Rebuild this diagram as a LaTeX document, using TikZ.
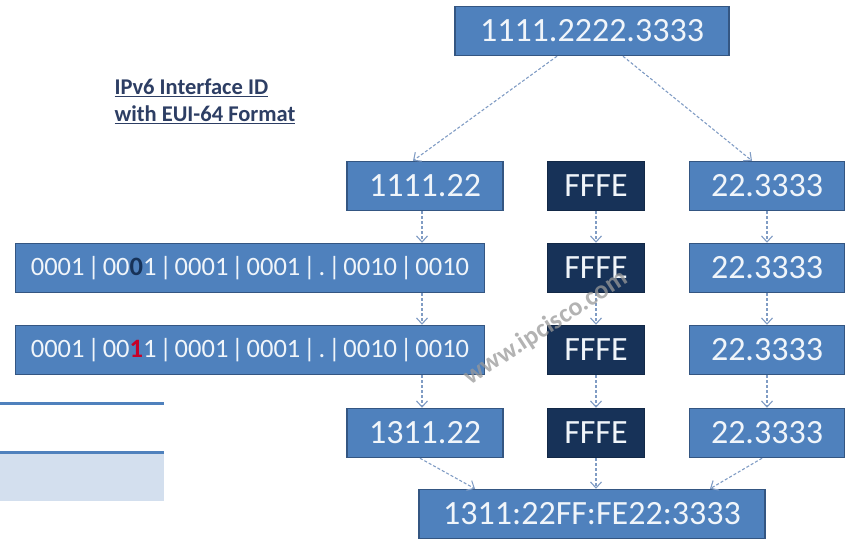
\documentclass[tikz,border=0pt]{standalone}
\usepackage{fontspec}
\setmainfont{Carlito}
\usetikzlibrary{arrows.meta}
\definecolor{boxblue}{RGB}{79,129,189}
\definecolor{boxedge}{RGB}{52,86,130}
\definecolor{darkbox}{RGB}{23,50,88}
\definecolor{linkblue}{RGB}{128,156,196}
\definecolor{tableblue}{RGB}{211,223,238}
\definecolor{labelblue}{RGB}{45,62,100}
\definecolor{bitred}{RGB}{200,0,40}
\definecolor{boxtext}{RGB}{240,245,250}
\newcommand{\bitsep}{\hspace{3pt}|\hspace{3pt}}

\begin{document}
\begin{tikzpicture}[x=1pt, y=-1pt,
  every node/.style={font=\fontsize{34}{36}\selectfont, text=boxtext},
  idbox/.style={draw=boxedge, fill=boxblue, line width=1.5pt, minimum height=49pt, inner sep=0pt},
  ffbox/.style={idbox, fill=darkbox, draw=darkbox!80!black, minimum width=97pt},
  bitbox/.style={idbox, minimum width=469pt, font=\fontsize{26.5}{28}\selectfont},
  link/.style={draw=linkblue, line width=1.1pt, dash pattern=on 3pt off 2pt, -{Straight Barb[length=6pt,width=11pt]}}]
\useasboundingbox (0,0) rectangle (852,542);

% table edge on the left
\fill[tableblue] (0,452) rectangle (164,501);
\draw[boxblue, line width=3pt] (0,403) -- (164,403);
\draw[boxblue, line width=3pt] (0,452) -- (164,452);

\node[text=labelblue, font=\bfseries\fontsize{22.5}{27}\selectfont, align=left, anchor=north west] (title) at (111,75) {\underline{IPv6 Interface ID}\\\underline{with EUI-64 Format}};

\node[idbox, minimum width=274pt] (top) at (592,31) {1111.2222.3333};
\node[idbox, minimum width=156pt] (head1) at (425,186) {1111.22};
\node[bitbox] (bits2) at (250,268) {0001\bitsep00{\bfseries\color{darkbox}0}1\bitsep0001\bitsep0001\bitsep.\bitsep0010\bitsep0010};
\node[bitbox] (bits3) at (250,350) {0001\bitsep00{\bfseries\color{bitred}1}1\bitsep0001\bitsep0001\bitsep.\bitsep0010\bitsep0010};
\node[idbox, minimum width=156pt] (head4) at (425,433) {1311.22};
\node[idbox, minimum width=346pt] (eui) at (592,514) {1311:22FF:FE22:3333};

\foreach \r/\y in {1/186,2/268,3/350,4/433} {
  \node[ffbox] (ff\r) at (596,\y) {FFFE};
  \node[idbox, minimum width=155pt] (tail\r) at (767,\y) {22.3333};
}
\foreach \a/\b in {1/2,2/3,3/4} {
  \draw[link] (ff\a) -- (ff\b);
  \draw[link] (tail\a) -- (tail\b);
}

\draw[link] ([xshift=-35]top.south) -- ([xshift=-12]head1.north);
\draw[link] ([xshift=31]top.south) -- ([xshift=-15]tail1.north);
\draw[link] ([xshift=-3]head1.south) -- ([xshift=-3]head1.south |- bits2.north);
\draw[link] ([xshift=-3]head1.south |- bits2.south) -- ([xshift=-3]head1.south |- bits3.north);
\draw[link] ([xshift=-3]head1.south |- bits3.south) -- ([xshift=-3]head4.north);
\draw[link] ([xshift=-5]head4.south) -- ([xshift=-117]eui.north);
\draw[link] (ff4) -- (eui.north -| ff4);
\draw[link] ([xshift=-5]tail4.south) -- ([xshift=118]eui.north);

\node[text=gray!80, opacity=0.75, font=\bfseries\fontsize{26}{26}\selectfont, rotate=33] (mark) at (546,328) {www.ipcisco.com};
\end{tikzpicture}
\end{document}
